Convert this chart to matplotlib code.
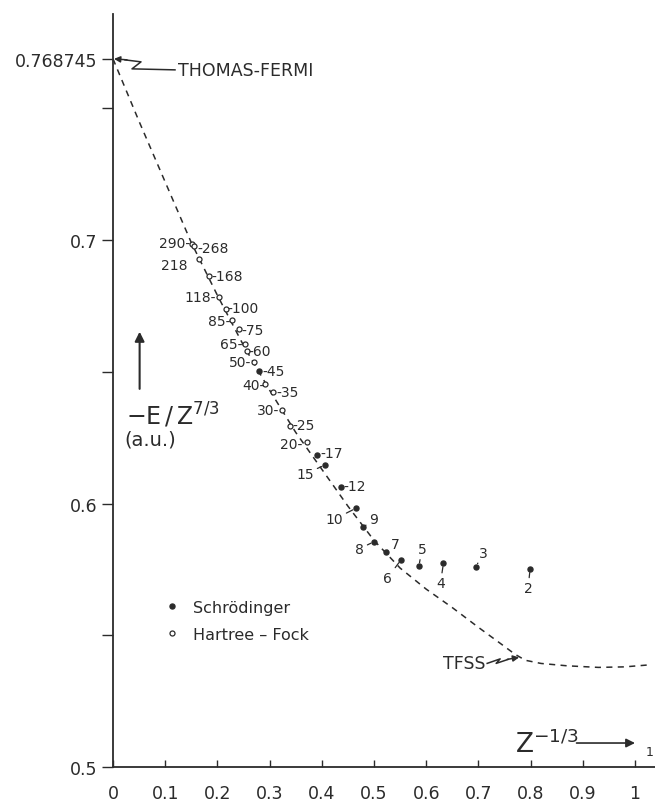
import matplotlib
matplotlib.use("Agg")
import matplotlib.pyplot as plt
import matplotlib.transforms as mtransforms

# ---------------- data ----------------
# Hartree-Fock (open circles)
hf_Z = [290, 268, 218, 168, 118, 100, 85, 75, 65, 60, 50, 40, 35, 30, 25, 20]
hf_x = [0.151, 0.155, 0.165, 0.183, 0.203, 0.216, 0.228, 0.241, 0.253, 0.256,
        0.270, 0.292, 0.307, 0.323, 0.340, 0.372]
hf_y = [0.6985, 0.6978, 0.6928, 0.6862, 0.6785, 0.6738, 0.6698, 0.6662, 0.6605,
        0.6580, 0.6538, 0.6454, 0.6422, 0.6356, 0.6295, 0.6232]

# Schroedinger (filled dots)
sc_Z = [45, 17, 15, 12, 10, 9, 8, 7, 6, 5, 4, 3, 2]
sc_x = [0.280, 0.391, 0.406, 0.437, 0.4655, 0.4795, 0.500, 0.523, 0.5517, 0.586,
        0.633, 0.695, 0.799]
sc_y = [0.6502, 0.6184, 0.6146, 0.6061, 0.5982, 0.5910, 0.5855, 0.5817, 0.5786,
        0.5762, 0.5773, 0.5760, 0.5751]

# Thomas-Fermi (+ corrections) dashed curve
tf_x = [0.00, 0.05, 0.10, 0.15, 0.20, 0.25, 0.30, 0.35, 0.40, 0.45, 0.50, 0.55,
        0.60, 0.65, 0.70, 0.74, 0.77, 0.79, 0.82, 0.87, 0.93, 0.98, 1.03]
tf_y = [0.768745, 0.745, 0.722, 0.699, 0.679, 0.660, 0.643, 0.627, 0.613, 0.599,
        0.586, 0.5755, 0.5675, 0.5605, 0.553, 0.5472, 0.5428, 0.5405, 0.5393,
        0.5384, 0.5378, 0.5380, 0.5388]

tfss_x, tfss_y = 0.78, 0.5416
tf_limit = 0.768745

y_ticks = [0.5, 0.6, 0.7, 0.768745]
y_ticklabels = ["0.5", "0.6", "0.7", "0.768745"]
y_minor = [0.55, 0.65, 0.75]
x_ticks = [0, 0.1, 0.2, 0.3, 0.4, 0.5, 0.6, 0.7, 0.8, 0.9, 1.0]
x_ticklabels = ["0", "0.1", "0.2", "0.3", "0.4", "0.5", "0.6", "0.7", "0.8", "0.9", "1"]

# ---------------- label layout (pixel offsets) ----------------
label_layout = {
    290: ("290-", -2, 1, "right", False),
    268: ("-268", 3, -2, "left", False),
    218: ("218", -12, -6, "right", False),
    168: ("-168", 3, 0, "left", False),
    118: ("118-", -3, 0, "right", False),
    100: ("-100", 2, 1, "left", False),
    85: ("85-", -2, -1, "right", False),
    75: ("-75", 3, -1, "left", False),
    65: ("65-", -3, 0, "right", False),
    60: ("-60", 2, 0, "left", False),
    50: ("50-", -3, 0, "right", False),
    45: ("-45", 3, 0, "left", False),
    40: ("40-", -1, -1, "right", False),
    35: ("-35", 3, 0, "left", False),
    30: ("30-", -2, 0, "right", False),
    25: ("-25", 2, 1, "left", False),
    20: ("20-", -5, -2, "right", False),
    17: ("-17", 3, 2, "left", False),
    15: ("15", -11, -9, "right", True),
    12: ("-12", 2, 1, "left", False),
    10: ("10", -13, -11, "right", True),
    9: ("9", 6, 8, "left", True),
    8: ("8", -10, -7, "right", True),
    7: ("7", 5, 8, "left", True),
    6: ("6", -9, -18, "right", True),
    5: ("5", 3, 17, "center", True),
    4: ("4", -3, -20, "center", True),
    3: ("3", 8, 14, "center", True),
    2: ("2", -2, -19, "center", True),
}

ink = "#2b2b2b"
plt.rcParams["font.family"] = ["DejaVu Sans"]

fig = plt.figure(figsize=(6.55, 8.03), dpi=100)
ax = fig.add_axes([113 / 655, 35 / 803, 542 / 655, 753 / 803])
ax.set_xlim(0, 1.0383)
ax.set_ylim(0.5, 0.78577)

for s in ["top", "right"]:
    ax.spines[s].set_visible(False)
for s in ["left", "bottom"]:
    ax.spines[s].set_color(ink)
    ax.spines[s].set_linewidth(1.3)

ax.set_xticks(x_ticks)
ax.set_xticklabels(x_ticklabels)
ax.set_yticks(y_ticks)
ax.set_yticklabels(y_ticklabels)
ax.set_yticks(y_minor, minor=True)
ax.tick_params(axis="x", direction="in", length=5, width=1.0, pad=12,
               labelsize=12.5, colors=ink)
ax.tick_params(axis="y", which="both", direction="out", length=8, width=1.0,
               pad=3, labelsize=12.5, colors=ink)

# curve
ax.plot(tf_x, tf_y, linestyle=(0, (4, 3.5)), color=ink, lw=1.1, clip_on=False)

# points
ax.plot(hf_x, hf_y, linestyle="none", marker="o", ms=3.6, mfc="white", mec=ink,
        mew=0.9, zorder=3, label="Hartree \u2013 Fock")
ax.plot(sc_x, sc_y, linestyle="none", marker="o", ms=3.6, mfc=ink, mec=ink,
        zorder=3, label="Schrödinger")

# point labels
for Z, x, y in list(zip(hf_Z, hf_x, hf_y)) + list(zip(sc_Z, sc_x, sc_y)):
    txt, dx, dy, ha, leader = label_layout[Z]
    kw = {}
    if leader:
        kw["arrowprops"] = dict(arrowstyle="-", lw=0.9, color=ink,
                                shrinkA=0.5, shrinkB=2.5)
    ax.annotate(txt, xy=(x, y), xytext=(dx, dy), textcoords="offset pixels",
                ha=ha, va="center", fontsize=10, color=ink, **kw)


def px_trans(x0, y0):
    return mtransforms.IdentityTransform() + mtransforms.ScaledTranslation(x0, y0, ax.transData)


# Thomas-Fermi annotation (zigzag leader + arrow)
tr = px_trans(0, tf_limit)
ax.plot([12, 28, 19, 62], [-1, -3, -10, -11], color=ink, lw=1.1,
        transform=tr, clip_on=False)
ax.annotate("", xy=(1, 0), xytext=(14, -1), xycoords=tr, textcoords=tr,
            arrowprops=dict(arrowstyle="-|>", color=ink, lw=1.1,
                            mutation_scale=9, shrinkA=0, shrinkB=0))
ax.text(65, -11, "THOMAS-FERMI", transform=tr, ha="left", va="center",
        fontsize=12.5, color=ink)

# TFSS annotation
tr2 = px_trans(tfss_x, tfss_y)
ax.plot([-33, -20, -24, -12], [-6, -1.5, -6, -2], color=ink, lw=1.1,
        transform=tr2, clip_on=False)
ax.annotate("", xy=(-1, 0), xytext=(-13, -2), xycoords=tr2, textcoords=tr2,
            arrowprops=dict(arrowstyle="-|>", color=ink, lw=1.1,
                            mutation_scale=9, shrinkA=0, shrinkB=0))
ax.text(-35, -6, "TFSS", transform=tr2, ha="right", va="center",
        fontsize=12.5, color=ink)

# y-axis label with arrow
ax.annotate("", xy=(0.051, 0.6652), xytext=(0.051, 0.6435),
            arrowprops=dict(arrowstyle="-|>", color=ink, lw=1.5,
                            mutation_scale=14, shrinkA=0, shrinkB=0))
ax.text(0.025, 0.6339, r"$-\mathrm{E}\,/\,\mathrm{Z}^{7/3}$", ha="left",
        va="center", fontsize=17, color=ink)
ax.text(0.071, 0.6245, "(a.u.)", ha="center", va="center", fontsize=14,
        color=ink)

# x-axis label with arrow
ax.text(0.77, 0.5090, r"$\mathrm{Z}^{-1/3}$", ha="left", va="center",
        fontsize=19, color=ink)
ax.annotate("", xy=(1.0, 0.5091), xytext=(0.888, 0.5091),
            arrowprops=dict(arrowstyle="-|>", color=ink, lw=1.2,
                            mutation_scale=13, shrinkA=0, shrinkB=0))
ax.text(1.028, 0.5060, "1", ha="center", va="center", fontsize=9, color=ink)

# legend
handles, labels = ax.get_legend_handles_labels()
leg = ax.legend(handles[::-1], labels[::-1], loc="upper left",
                bbox_to_anchor=(0.0997, 0.222), frameon=False, fontsize=11.5,
                handlelength=0.6, handletextpad=1.0, labelspacing=0.75,
                borderpad=0, borderaxespad=0)
for t in leg.get_texts():
    t.set_color(ink)

fig.savefig("out.png", dpi=100, facecolor="white")
